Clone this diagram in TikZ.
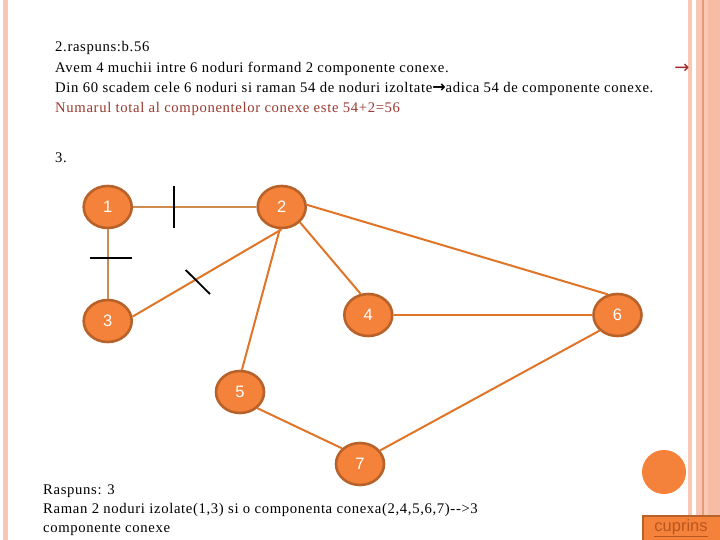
\documentclass[tikz,border=0pt]{standalone}
\usepackage{fontspec}
\setmainfont{Liberation Serif}[LetterSpace=4.4]
\newfontfamily\arial{Liberation Sans}
\newfontfamily\djv{DejaVu Sans}
\usetikzlibrary{shapes.geometric}
\definecolor{nodefill}{HTML}{F5823A}
\definecolor{nodeline}{HTML}{B8622A}
\definecolor{edgeA}{HTML}{E07528}
\definecolor{edgeB}{HTML}{D08A50}
\definecolor{pinkA}{HTML}{F9C8B4}
\definecolor{pinkB}{HTML}{F7BCA4}
\definecolor{pinkLine}{HTML}{E89A78}
\definecolor{redtxt}{HTML}{9A3A30}
\definecolor{redarrow}{HTML}{A0282A}
\definecolor{cupr}{HTML}{B8561E}
\tikzset{
  gnode/.style={ellipse, draw=nodeline, line width=2.6pt, fill=nodefill,
    minimum width=48pt, minimum height=42pt, inner sep=0pt,
    text=white, font=\arial\fontsize{16.5}{16.5}\selectfont},
  gedge/.style={draw=edgeA, line width=2pt},
  gedgeB/.style={draw=edgeB, line width=2pt},
  tickmark/.style={draw=black, line width=1.8pt},
  txt/.style={anchor=base west, inner sep=0pt, font=\fontsize{14.7}{14.7}\selectfont},
}
\begin{document}
\begin{tikzpicture}[x=1pt,y=-1pt]
\useasboundingbox (0,0) rectangle (720,540);
\fill[white] (0,0) rectangle (720,540);
% side stripes
\fill[pinkA] (3,0) rectangle (8,540);
\fill[pinkA] (688,0) rectangle (692,540);
\fill[pinkA] (696,0) rectangle (708,540);
\fill[pinkB] (708,0) rectangle (720,540);
\fill[pinkLine] (702,0) rectangle (703.5,540);

% header text
\node[txt] (l1) at (55,52) {2.raspuns:b.56};
\node[txt] (l2) at (55,72.5) {Avem 4 muchii intre 6 noduri formand 2 componente conexe.};
\node[txt] (l3) at (55,93) {Din 60 scadem cele 6 noduri si raman 54 de noduri izoltate{\djv\bfseries\fontsize{16}{16}\selectfont →}adica 54 de componente conexe.};
\node[txt, text=redtxt] (l4) at (55,113) {Numarul total al componentelor conexe este 54+2=56};
\node[anchor=base, inner sep=0pt, text=redarrow, font=\djv\fontsize{18}{18}\selectfont] (ra) at (682,74) {→};
\node[txt] (l5) at (55,163) {3.};

% graph nodes
\node[gnode] (n1) at (107.7,207) {1};
\node[gnode] (n2) at (281.7,207) {2};
\node[gnode] (n3) at (107.7,321) {3};
\node[gnode] (n4) at (368.3,315) {4};
\node[gnode] (n6) at (617.5,315) {6};
\node[gnode] (n5) at (240,392) {5};
\node[gnode] (n7) at (360,464) {7};

% edges
\draw[gedgeB] (n1) -- (n2);
\draw[gedgeB] (n1) -- (n3);
\draw[gedge] (n2.-90) -- (n3.10);
\draw[gedge] (n2.-40) -- (n4.110);
\draw[gedge] (n2.-95) -- (n5.85);
\draw[gedge] (n2.5) -- (n6.115);
\draw[gedge] (n4) -- (n6);
\draw[gedge] (n5.-43) -- (n7.139);
\draw[gedge] (n7.34) -- (n6.-139);

% tick marks (cuts)
\draw[tickmark] (174,186.5) -- (174,228.5);
\draw[tickmark] (90,257.7) -- (131.7,257.7);
\draw[tickmark] (185.7,270) -- (210,294);

% bottom text
\node[txt] (b1) at (43,494) {Raspuns: 3};
\node[txt] (b2) at (43,513) {Raman 2 noduri izolate(1,3) si o componenta conexa(2,4,5,6,7)-{}->3};
\node[txt] (b3) at (43,532) {componente conexe};

% decorations bottom right
\node[circle, fill=nodefill, minimum size=44pt, inner sep=0pt] (dot) at (664,472) {};
\node[draw=nodeline, line width=2pt, fill=nodefill, anchor=north west,
  minimum width=82pt, minimum height=27pt, inner sep=0pt] (cbox) at (642,515) {};
\node[text=cupr, font=\arial\fontsize{16.5}{16.5}\selectfont, inner sep=0pt] (ctext) at (681,528.5) {\underline{cuprins}};
\end{tikzpicture}
\end{document}
